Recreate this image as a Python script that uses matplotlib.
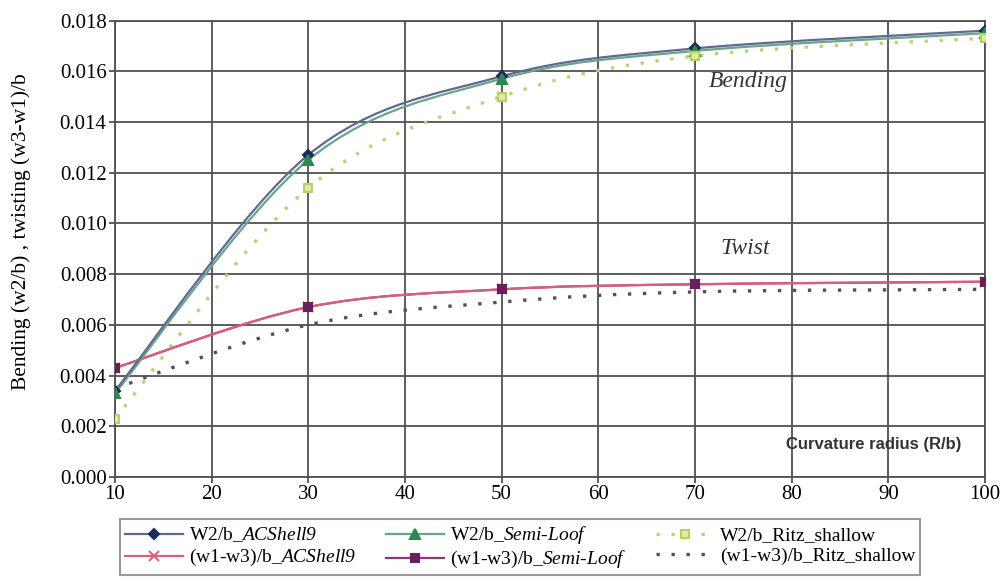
import numpy as np
import matplotlib
matplotlib.use('Agg')
import matplotlib.pyplot as plt
from matplotlib.path import Path
from matplotlib.patches import PathPatch
from matplotlib.lines import Line2D

plt.rcParams['font.family'] = ['Liberation Serif', 'DejaVu Serif']
plt.rcParams['mathtext.fontset'] = 'custom'
plt.rcParams['mathtext.it'] = 'Liberation Serif:italic'
plt.rcParams['mathtext.rm'] = 'Liberation Serif:italic'

# curvature radius R/b
radius = [10, 30, 50, 70, 100]

# bending w2/b
bend_acshell = [0.0034, 0.0127, 0.0158, 0.0169, 0.0176]
bend_semiloof = [0.0033, 0.0125, 0.0157, 0.0168, 0.0175]
bend_ritz = [0.0023, 0.0114, 0.0150, 0.0166, 0.0173]

# twisting (w1-w3)/b
twist_acshell = [0.0043, 0.0067, 0.0074, 0.0076, 0.0077]
twist_semiloof = [0.0043, 0.0067, 0.0074, 0.0076, 0.0077]
twist_ritz = [0.0035, 0.0060, 0.0069, 0.0073, 0.0074]

labels = [r'W2/b_$\mathit{ACShell9}$',
          r'(w1-w3)/b_$\mathit{ACShell9}$',
          r'W2/b_$\mathit{Semi}$-$\mathit{Loof}$',
          r'(w1-w3)/b_$\mathit{Semi}$-$\mathit{Loof}$',
          'W2/b_Ritz_shallow',
          '(w1-w3)/b_Ritz_shallow']


def smooth_path(xs, ys):
    # Excel-like smoothed line: Catmull-Rom segments as cubic Beziers
    p = np.column_stack([xs, ys]).astype(float)
    n = len(p)
    verts = [p[0]]
    codes = [Path.MOVETO]
    for i in range(n - 1):
        p0 = p[i - 1] if i > 0 else p[i]
        p3 = p[i + 2] if i + 2 < n else p[i + 1]
        c1 = p[i] + (p[i + 1] - p0) / 6.0
        c2 = p[i + 1] - (p3 - p[i]) / 6.0
        verts += [c1, c2, p[i + 1]]
        codes += [Path.CURVE4] * 3
    return Path(verts, codes)


fig = plt.figure(figsize=(10.04, 5.78), dpi=100)
ax = fig.add_axes([0.1145, 0.1747, 0.8665, 0.7898])

dots = (0, (1, 3.5))
series = [
    # y, line color, lw, linestyle, marker, marker face, marker edge, msize, z
    (bend_acshell, '#5f6a92', 1.6, '-', 'D', '#1c2a5c', '#1c2a5c', 5, 3.2),
    (twist_acshell, '#d8607e', 1.6, '-', 'x', '#d8607e', '#d8607e', 7, 3.1),
    (bend_semiloof, '#6aa58a', 1.6, '-', '^', '#2a8a50', '#2a8a50', 7, 3.1),
    (twist_semiloof, '#8a3a72', 1.6, '-', 's', '#6a1f5a', '#6a1f5a', 6, 3.0),
    (bend_ritz, '#b8d27a', 2.4, dots, 's', '#dfeaa8', '#b8d060', 6, 3.0),
    (twist_ritz, '#5a4a5a', 2.4, dots, None, 'none', 'none', 0, 3.0),
]

handles = []
for (ys, col, lw, ls, mk, mfc, mec, ms, z), lab in zip(series, labels):
    patch = PathPatch(smooth_path(radius, ys), facecolor='none', edgecolor=col,
                      lw=lw, linestyle=ls, zorder=z)
    ax.add_patch(patch)
    if mk is not None:
        ax.plot(radius, ys, linestyle='none', marker=mk, markersize=ms,
                markerfacecolor=mfc, markeredgecolor=mec, mew=1.5, zorder=4)
    handles.append(Line2D([], [], color=col, lw=lw, linestyle=ls, marker=mk,
                          markersize=ms, markerfacecolor=mfc,
                          markeredgecolor=mec, mew=1.5))

ax.set_xlim(10, 100)
ax.set_ylim(0, 0.018)
ax.set_xticks(np.arange(10, 101, 10))
ax.set_yticks(np.arange(0, 0.0181, 0.002))
ax.yaxis.set_major_formatter(matplotlib.ticker.FormatStrFormatter('%.3f'))
ax.grid(True, color='#505050', lw=1.3)
ax.set_axisbelow(True)
for s in ax.spines.values():
    s.set_color('#505050')
    s.set_linewidth(1.3)
ax.tick_params(labelsize=15, length=4, width=1.3, color='#505050',
               direction='out', pad=2)
ax.set_ylabel('Bending (w2/b) , twisting (w3-w1)/b', fontsize=15.5)
ax.yaxis.set_label_coords(-0.097, 0.538)

ax.text(75.5, 0.0156, 'Bending', fontsize=17, style='italic', color='#333333',
        ha='center', va='center')
ax.text(75.2, 0.0090, 'Twist', fontsize=17, style='italic', color='#333333',
        ha='center', va='center')
ax.text(97.6, 0.00127, 'Curvature radius (R/b)', fontsize=12, weight='bold',
        family='Liberation Sans', color='#333333', ha='right', va='center')

leg = fig.legend(handles, labels, ncol=3, loc='center', bbox_to_anchor=(0.518, 0.053),
                 fontsize=14, frameon=True, fancybox=False, edgecolor='#808080',
                 handlelength=3.0, columnspacing=1.5, borderpad=0.25, labelspacing=0.15,
                 handletextpad=0.3, borderaxespad=0)
leg.get_frame().set_linewidth(1.5)

fig.savefig('out.png', dpi=100)
